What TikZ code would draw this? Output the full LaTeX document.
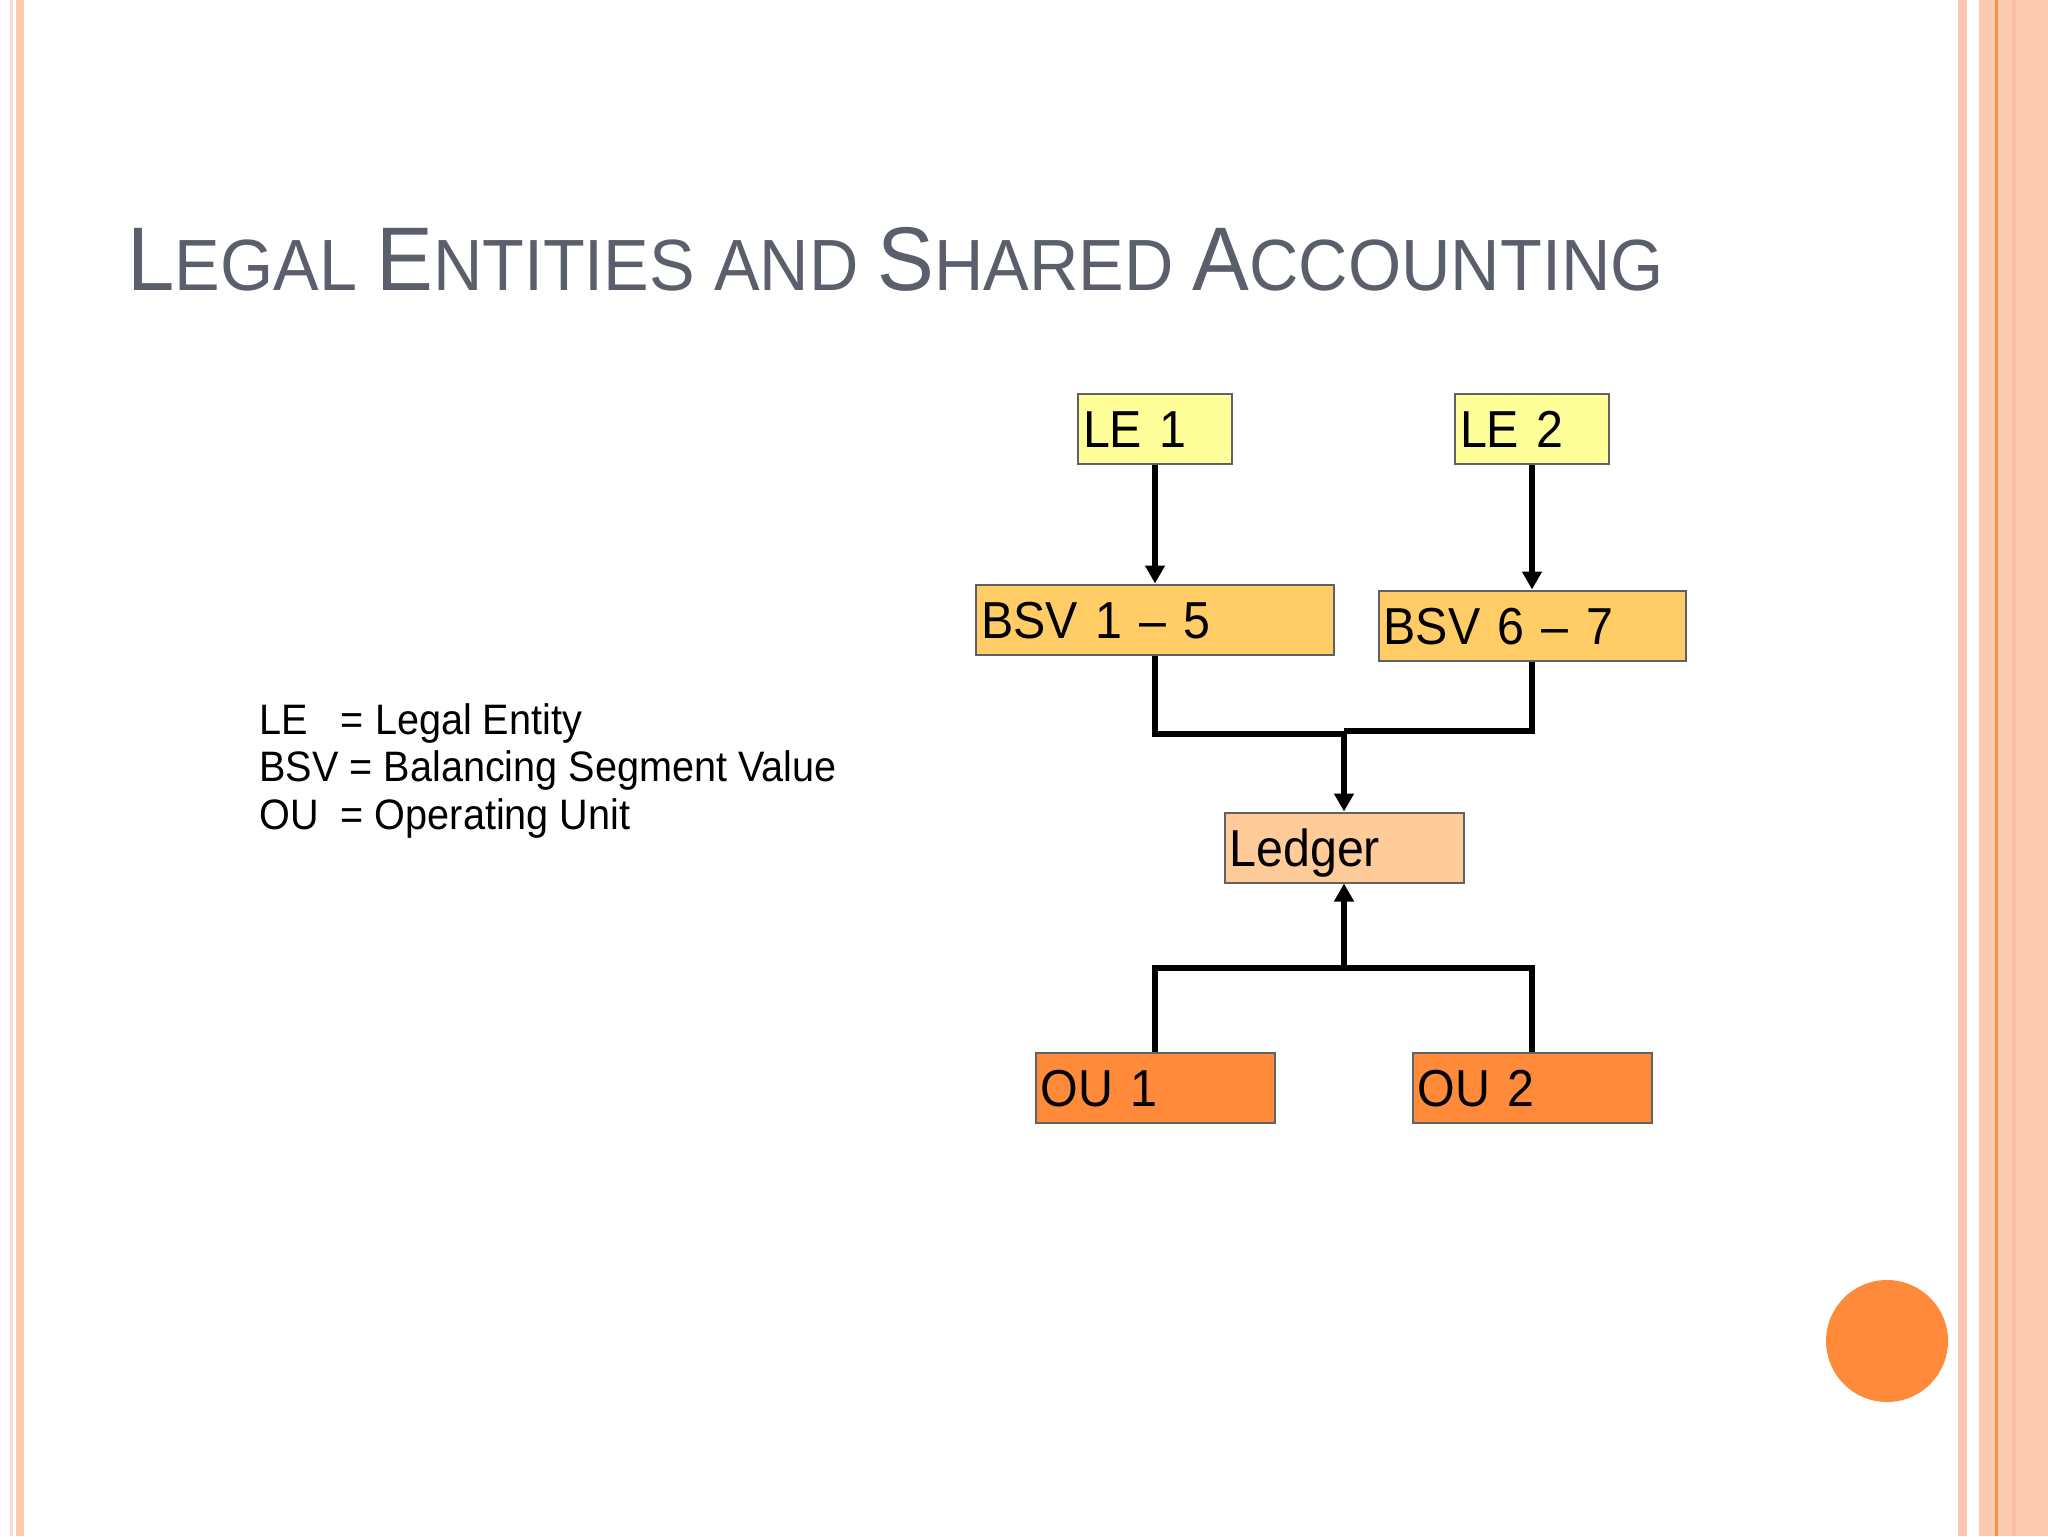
\documentclass[tikz,border=0pt]{standalone}
\usepackage{fontspec}
\setmainfont[FakeStretch=0.93]{Liberation Sans}
\newfontfamily\titlefont[FakeStretch=0.942]{Liberation Sans}
\usetikzlibrary{arrows.meta}

\definecolor{titlegray}{HTML}{5B5F6C}
\definecolor{boxgray}{HTML}{5F6168}
\definecolor{leyellow}{HTML}{FFFF99}
\definecolor{bsvgold}{HTML}{FFCC66}
\definecolor{ledgerpeach}{HTML}{FFCC99}
\definecolor{ouorange}{HTML}{FF8A3A}
\definecolor{framesalmon}{HTML}{FDCBB0}
\definecolor{framepink}{HTML}{F9C5B5}
\definecolor{framelight}{HTML}{FCDACD}
\definecolor{frameorange}{HTML}{FF8C42}
\definecolor{framedark}{HTML}{FBBFA4}

\newcommand{\capletter}[1]{{\fontsize{45.2}{50}\selectfont #1}}

\tikzset{
  unitbox/.style={draw=boxgray, line width=1pt, rectangle, inner xsep=2.5pt, inner ysep=0pt,
    minimum height=35pt, text height=18.6pt, text depth=0pt, align=left,
    font=\fontsize{26}{30}\selectfont},
  legend/.style={inner sep=0pt, font=\fontsize{21.3}{24}\selectfont},
  link/.style={line width=3.2pt, black},
  feed/.style={link, -{Triangle[length=9pt,width=9.5pt]}},
}

\begin{document}
\begin{tikzpicture}[x=0.5pt,y=0.5pt,yscale=-1,xscale=1]
\useasboundingbox (0,0) rectangle (2048,1536);

%Shape: Frame stripes left
\fill[framelight] (10,0) rectangle (13,1536);
\fill[framesalmon] (16,0) rectangle (24,1536);
%Shape: Frame stripes right
\fill[framepink] (1958,0) rectangle (1967,1536);
\fill[framesalmon] (1979,0) rectangle (2048,1536);
\fill[frameorange] (1995,0) rectangle (1998,1536);
\fill[framedark] (2012,0) rectangle (2016,1536);
%Shape: Circle
\fill[ouorange] (1887,1341) circle (61);

% Text Node
\node[anchor=base west, inner sep=0pt, text=titlegray, font=\titlefont\fontsize{36.3}{40}\selectfont] (title) at (127,290)
  {\capletter{L}EGAL \capletter{E}NTITIES AND \capletter{S}HARED \capletter{A}CCOUNTING};

% Text Node
\node[legend, anchor=base west] (keyle) at (259,734) {LE~~~= Legal Entity};
% Text Node
\node[legend, anchor=base west] (keybsv) at (259,781) {BSV = Balancing Segment Value};
% Text Node
\node[legend, anchor=base west] (keyou) at (259,829) {OU~~= Operating Unit};

%Shape: Rectangle
\node[unitbox, fill=leyellow, text width=72pt] (le1) at (1155,429) {LE 1};
\node[unitbox, fill=leyellow, text width=72pt] (le2) at (1532,429) {LE 2};
\node[unitbox, fill=bsvgold, text width=174pt] (bsv1) at (1155,619.5) {BSV 1 -- 5};
\node[unitbox, fill=bsvgold, text width=148.5pt] (bsv2) at (1532,625.5) {BSV 6 -- 7};
\node[unitbox, fill=ledgerpeach, text width=114.5pt] (ledger) at (1344,847.5) {Ledger};
\node[unitbox, fill=ouorange, text width=114.5pt] (ou1) at (1155,1087.5) {OU 1};
\node[unitbox, fill=ouorange, text width=114.5pt] (ou2) at (1532,1087.5) {OU 2};

\coordinate (joinleft) at (1344,734);
\coordinate (joinright) at (1344,731);
\coordinate (lowjoin) at (1344,968);

%Straight Lines
\draw[feed] (le1) -- (bsv1);
\draw[feed] (le2) -- (bsv2);
\draw[link] (bsv1.south) |- (joinleft);
\draw[link] (bsv2.south) |- (joinright);
\draw[feed] (joinright) -- (ledger.north);
\draw[link] (ou1.north) |- (lowjoin) -| (ou2.north);
\draw[feed] (lowjoin) -- (ledger.south);
\end{tikzpicture}
\end{document}
